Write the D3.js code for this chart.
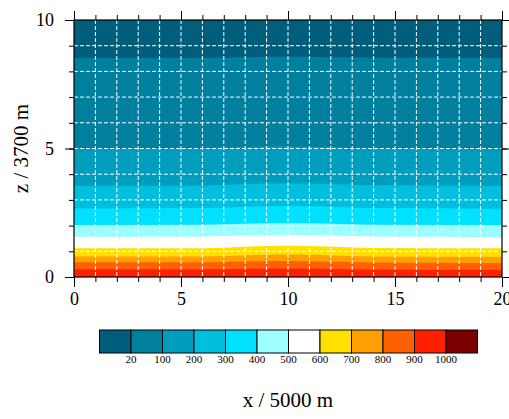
<!DOCTYPE html>
<html>
<head>
<meta charset="utf-8">
<script src="https://cdn.jsdelivr.net/npm/d3@7"></script>
<style>
body { margin: 0; background: #fff; }
</style>
</head>
<body>
<div id="container"></div>
<script>
// contour levels and fill colours (one more colour than levels)
const levels = [20, 100, 200, 300, 400, 500, 600, 700, 800, 900, 1000];
const colors = ['rgb(0,94,124)', 'rgb(0,127,158)', 'rgb(0,158,190)', 'rgb(0,190,222)', 'rgb(0,224,255)',
    'rgb(155,255,255)', 'rgb(255,255,255)', 'rgb(255,224,0)', 'rgb(255,160,0)', 'rgb(255,96,0)',
    'rgb(255,32,0)', 'rgb(125,0,0)'];
const xTicks = [0, 5, 10, 15, 20];
const zTicks = [0, 5, 10];

const profileX = [0, 6, 8.5, 10, 11.5, 14, 20];
const lineLevels = [900, 800, 700, 600, 500, 400, 300, 200, 100, 20];
const lineZ = [
    [0.30, 0.30, 0.32, 0.33, 0.32, 0.29, 0.28],
    [0.57, 0.57, 0.61, 0.62, 0.60, 0.56, 0.54],
    [0.80, 0.80, 0.86, 0.88, 0.86, 0.80, 0.79],
    [1.12, 1.12, 1.20, 1.22, 1.20, 1.13, 1.12],
    [1.57, 1.58, 1.62, 1.64, 1.62, 1.58, 1.56],
    [2.02, 2.03, 2.08, 2.09, 2.08, 2.03, 2.01],
    [2.67, 2.68, 2.74, 2.76, 2.74, 2.68, 2.66],
    [3.55, 3.56, 3.63, 3.65, 3.63, 3.57, 3.55],
    [5.00, 5.01, 5.07, 5.08, 5.06, 5.01, 5.00],
    [8.52, 8.53, 8.56, 8.57, 8.56, 8.54, 8.52]
];
const groundValue = 950; // value range of the lowest band (900-1000)

const width = 509, height = 419;
const pLeft = 74, pRight = 502, pTop = 20, pBottom = 277;
const serif = '"Liberation Serif", "Times New Roman", Times, serif';

const svg = d3.select('#container').append('svg').attr('width', width).attr('height', height);
const x = d3.scaleLinear().domain([0, 20]).range([pLeft, pRight]);
const z = d3.scaleLinear().domain([0, 10]).range([pBottom, pTop]);

const colorOf = d3.scaleThreshold().domain(levels).range(colors);

svg.append('clipPath').attr('id', 'plotclip')
    .append('rect').attr('x', pLeft).attr('y', pTop).attr('width', pRight - pLeft).attr('height', pBottom - pTop);

const plot = svg.append('g').attr('clip-path', 'url(#plotclip)');

// lowest band fills the whole box, each line then paints the band above it
plot.append('rect')
    .attr('x', pLeft).attr('y', pTop).attr('width', pRight - pLeft).attr('height', pBottom - pTop)
    .attr('fill', colorOf(groundValue));

const area = d3.area()
    .x(d => x(d[0]))
    .y0(z(10))
    .y1(d => z(d[1]))
    .curve(d3.curveMonotoneX);

lineZ.forEach((row, i) => {
    const pts = profileX.map((px, j) => [px, row[j]]);
    plot.append('path')
        .attr('d', area(pts))
        .attr('fill', colorOf(lineLevels[i] - 1));
});

// dashed white grid every unit
const grid = svg.append('g').attr('stroke', '#fff').attr('stroke-width', 1).attr('stroke-dasharray', '4,2');
grid.selectAll('.gx').data(d3.range(1, 20)).enter().append('line')
    .attr('x1', d => x(d)).attr('x2', d => x(d)).attr('y1', pTop).attr('y2', pBottom);
grid.selectAll('.gz').data(d3.range(1, 10)).enter().append('line')
    .attr('x1', pLeft).attr('x2', pRight).attr('y1', d => z(d)).attr('y2', d => z(d));

// axes on all four sides, ticks pointing out
function axisPair(axisFn, scale, majors, minors, majorLen, minorLen, tr, labels, pad) {
    svg.append('g').attr('transform', tr)
        .call(axisFn(scale).tickValues(minors).tickSize(minorLen).tickFormat(''))
        .call(g => g.select('.domain').remove());
    const g = svg.append('g').attr('transform', tr)
        .call(axisFn(scale).tickValues(majors).tickSize(majorLen).tickPadding(pad)
            .tickFormat(labels ? d3.format('d') : ''));
    g.select('.domain').remove();
    g.attr('font-family', serif).attr('font-size', 18);
    g.selectAll('text').attr('fill', '#000');
}
const xMinor = d3.range(0, 21), zMinor = d3.range(0, 11);
axisPair(d3.axisBottom, x, xTicks, xMinor, 10, 5, `translate(0,${pBottom})`, true, 5);
axisPair(d3.axisTop, x, xTicks, xMinor, 9, 5, `translate(0,${pTop})`, false, 3);
axisPair(d3.axisLeft, z, zTicks, zMinor, 9, 5, `translate(${pLeft},0)`, true, 11);
axisPair(d3.axisRight, z, zTicks, zMinor, 9, 5, `translate(${pRight},0)`, false, 3);
svg.selectAll('.tick line').attr('stroke', '#000');

svg.append('rect')
    .attr('x', pLeft).attr('y', pTop).attr('width', pRight - pLeft).attr('height', pBottom - pTop)
    .attr('fill', 'none').attr('stroke', '#000').attr('stroke-width', 1.2);

// axis titles
svg.append('text')
    .attr('x', (pLeft + pRight) / 2).attr('y', 407)
    .attr('text-anchor', 'middle').attr('font-family', serif).attr('font-size', 21)
    .text('x / 5000 m');
svg.append('text')
    .attr('transform', `translate(28,${(pTop + pBottom) / 2}) rotate(-90)`)
    .attr('text-anchor', 'middle').attr('font-family', serif).attr('font-size', 21)
    .text('z / 3700 m');

// label bar
const barX = d3.scaleLinear().domain([0, colors.length]).range([99.5, 477.5]);
const bar = svg.append('g');
bar.selectAll('rect').data(colors).enter().append('rect')
    .attr('x', (d, i) => barX(i)).attr('y', 330)
    .attr('width', barX(1) - barX(0)).attr('height', 23)
    .attr('fill', d => d)
    .attr('stroke', '#000').attr('stroke-width', 1);
bar.selectAll('text').data(levels).enter().append('text')
    .attr('x', (d, i) => barX(i + 1)).attr('y', 363)
    .attr('text-anchor', 'middle').attr('font-family', serif).attr('font-size', 11)
    .text(d => d);
</script>
</body>
</html>
